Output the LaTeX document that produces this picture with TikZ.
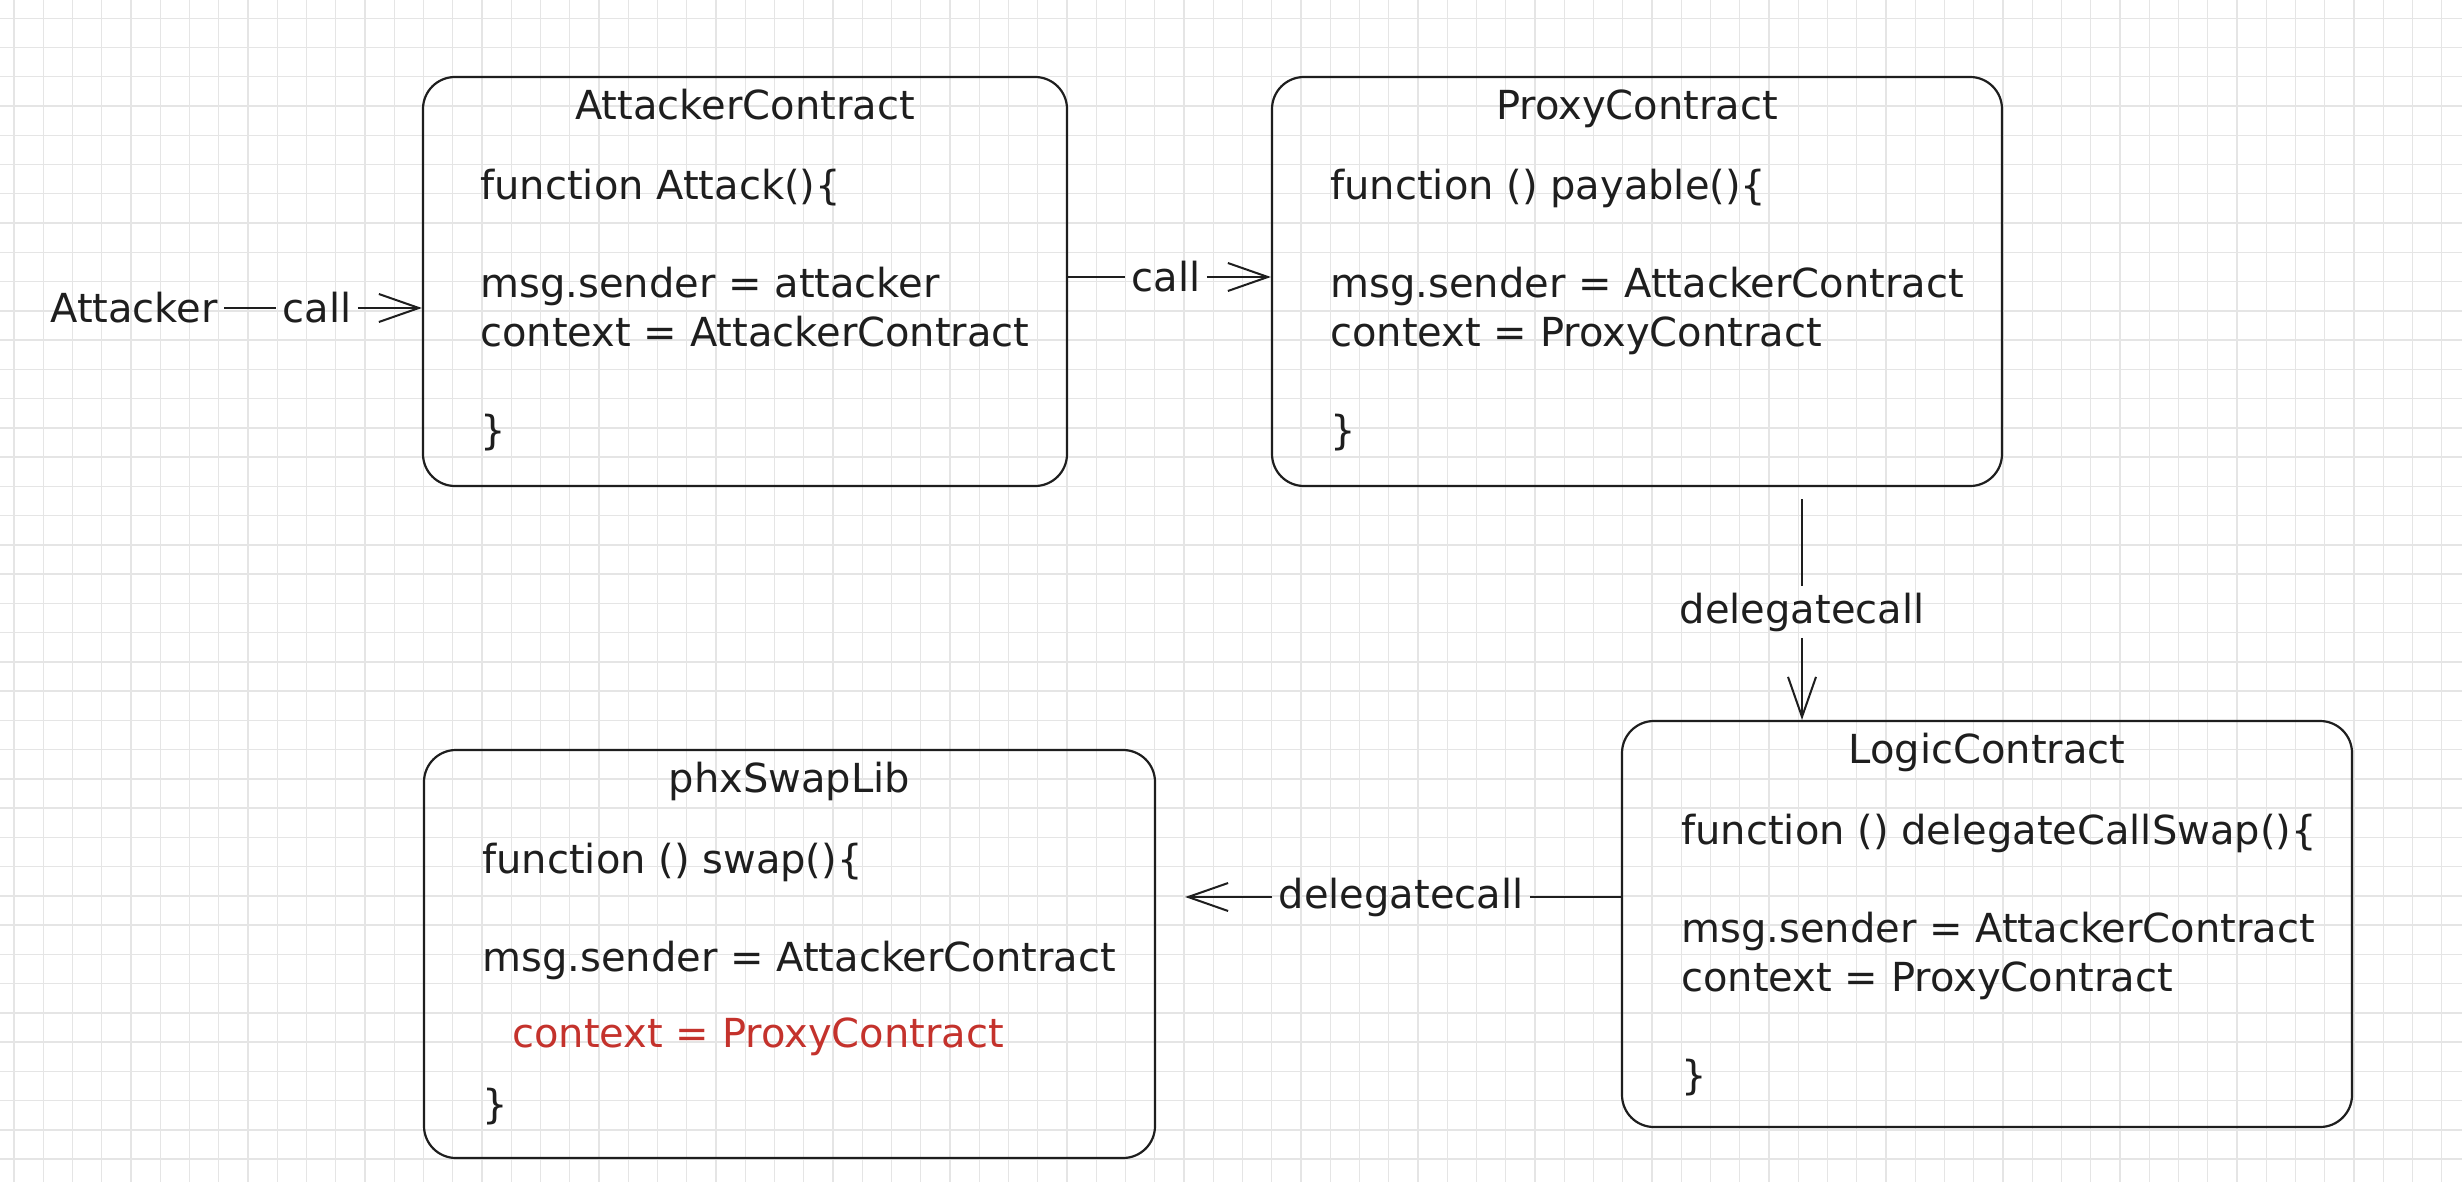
\documentclass[tikz,border=0pt]{standalone}
\usepackage{fontspec}
\setmainfont{DejaVu Sans}
\usetikzlibrary{arrows.meta}
\definecolor{ink}{HTML}{1E1E1E}
\definecolor{gridc}{RGB}{229,229,229}
\definecolor{redink}{RGB}{196,50,44}
\newcommand\codelines[1]{\begin{tabular}[t]{@{}l@{}}#1\end{tabular}}
\begin{document}
\begin{tikzpicture}[x=0.5pt,y=-0.5pt,
  cbox/.style={draw=ink, line width=1.1pt, rounded corners=16pt, inner sep=0pt},
  ttl/.style={inner sep=0pt, anchor=base, text=ink, font=\fontsize{20pt}{24.5pt}\selectfont},
  bodytext/.style={inner sep=0pt, anchor=base west, text=ink, font=\fontsize{20pt}{24.5pt}\selectfont},
  lbl/.style={inner sep=3pt, text=ink, font=\fontsize{20pt}{24.5pt}\selectfont},
  conn/.style={draw=ink, line width=1pt},
  arrowend/.style={-{Straight Barb[length=20pt,width=14pt]}},
  gridline/.style={draw=gridc, line width=0.7pt}]
\useasboundingbox (0,0) rectangle (2462,1182);
\fill[white] (0,0) rectangle (2462,1182);
% grid
\foreach \i in {0,...,83} \draw[gridline] ({14+29.25*\i},0) -- ({14+29.25*\i},1182);
\foreach \j in {0,...,39} \draw[gridline] (0,{18.3+29.25*\j}) -- (2462,{18.3+29.25*\j});

% boxes
\node (box1) [cbox, minimum width=322pt, minimum height=204.5pt] at (745,281.5) {};
\node (box2) [cbox, minimum width=365pt, minimum height=204.5pt] at (1637,281.5) {};
\node (box3) [cbox, minimum width=365pt, minimum height=203pt] at (1987,924) {};
\node (box4) [cbox, minimum width=365.5pt, minimum height=204pt] at (789.5,954) {};

% titles
\node (t1) [ttl] at (745,120) {AttackerContract};
\node (t2) [ttl] at (1637,120) {ProxyContract};
\node (t3) [ttl] at (1987,763) {LogicContract};
\node (t4) [ttl] at (789.5,792) {phxSwapLib};

% bodies
\node (b1) [bodytext] at (480,200) {\codelines{function Attack()\{\\ \\ msg.sender = attacker\\ context = AttackerContract\\ \\ \}}};
\node (b2) [bodytext] at (1330,200) {\codelines{function () payable()\{\\ \\ msg.sender = AttackerContract\\ context = ProxyContract\\ \\ \}}};
\node (b3) [bodytext] at (1681,844) {\codelines{function () delegateCallSwap()\{\\ \\ msg.sender = AttackerContract\\ context = ProxyContract\\ \\ \}}};
\node (b4) [bodytext] at (482,873) {\codelines{function () swap()\{\\ \\ msg.sender = AttackerContract\\ \\ \\ \}}};
\node (r4) [bodytext, text=redink] at (512,1047) {context = ProxyContract};

% connectors
\node (attacker) [lbl] at (134,308) {Attacker};
\node (call1) [lbl] at (317,308) {call};
\draw[conn] (attacker) -- (call1);
\draw[conn,arrowend] (call1) -- (call1 -| box1.west);

\node (call2) [lbl] at (1166,277) {call};
\draw[conn] (box1.east |- call2) -- (call2);
\draw[conn,arrowend] (call2) -- (call2 -| box2.west);

\node (dc1) [lbl] at (1802,612) {delegatecall};
\coordinate (s1) at ([yshift=-6pt]box2.south);
\draw[conn] (s1 -| dc1) -- (dc1);
\draw[conn,arrowend] (dc1) -- (dc1 |- box3.north);

\node (dc2) [lbl] at (1401,897) {delegatecall};
\draw[conn] (box3.west |- dc2) -- (dc2);
\draw[conn,arrowend,shorten >=14.5pt] (dc2) -- (dc2 -| box4.east);
\end{tikzpicture}
\end{document}
